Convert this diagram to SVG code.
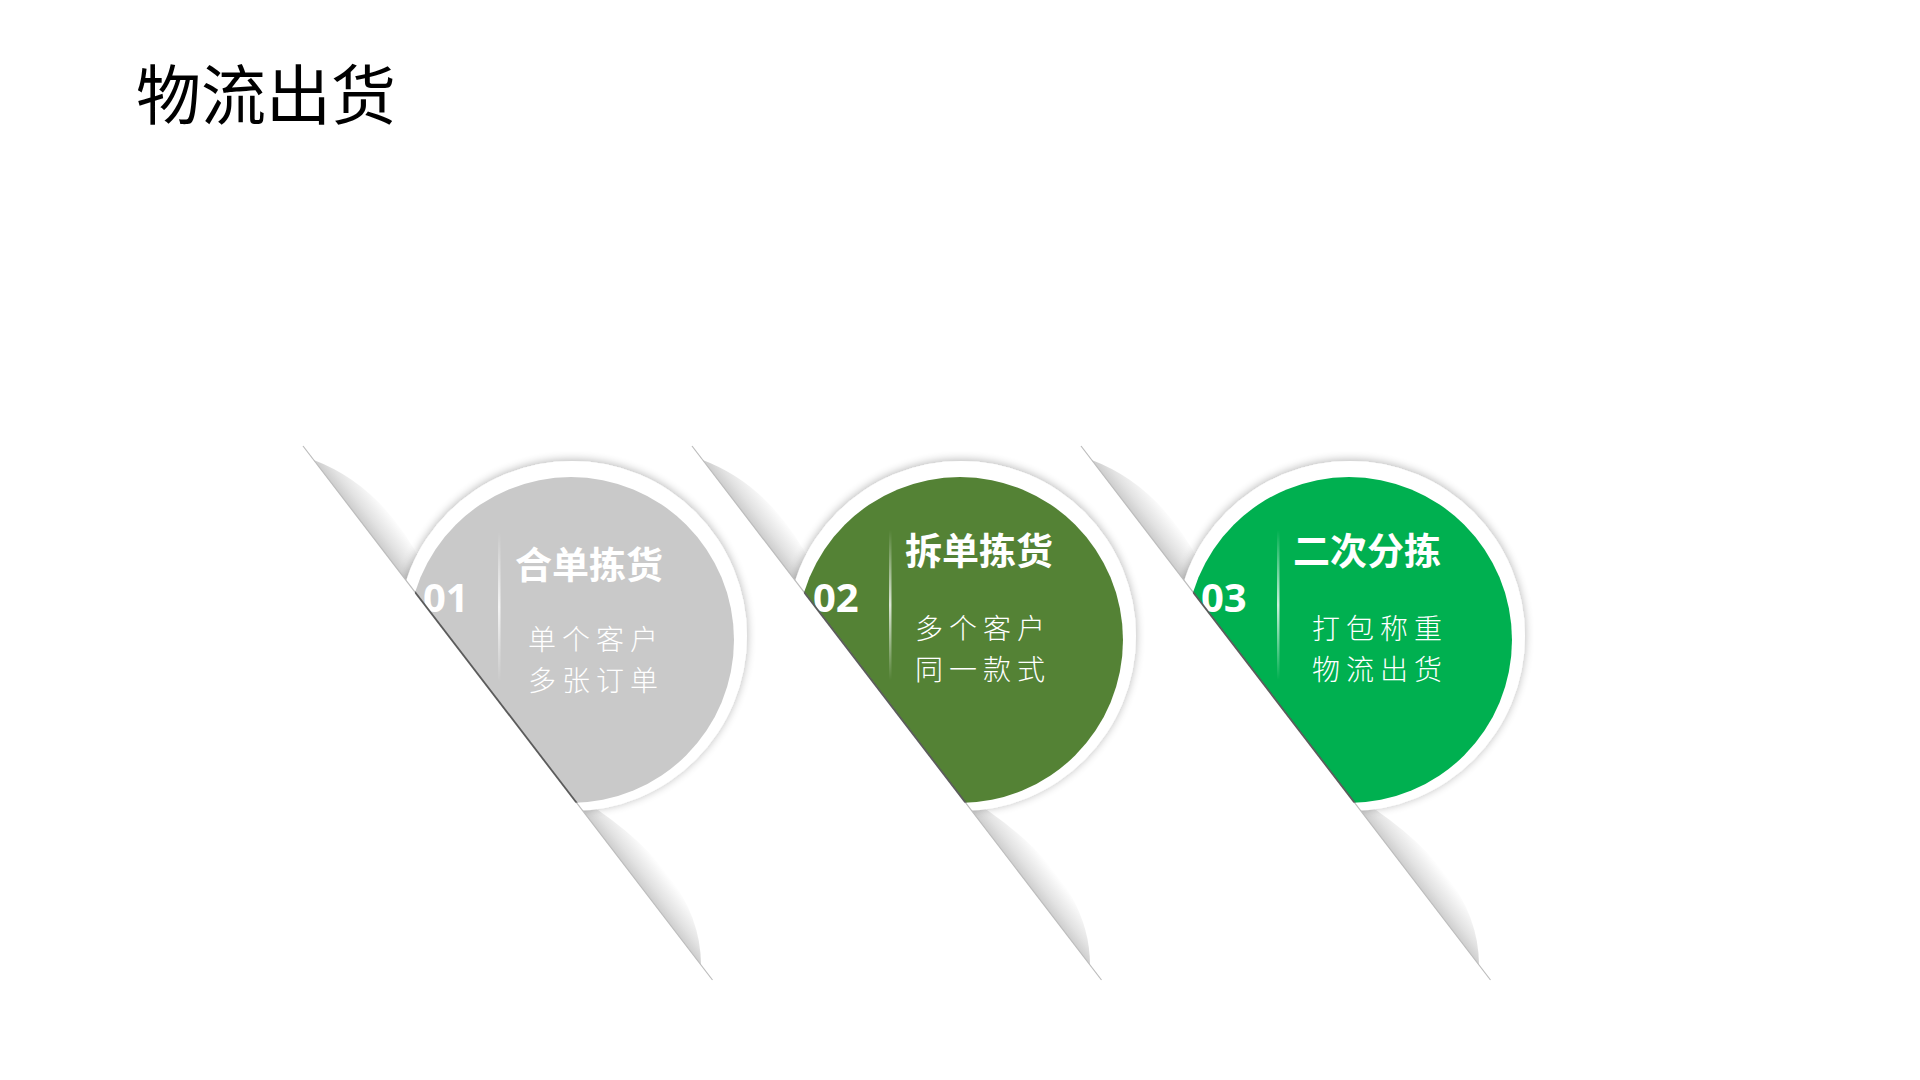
<svg xmlns="http://www.w3.org/2000/svg" width="1920" height="1080" viewBox="0 0 1920 1080">
  <style>
    .title { font-family: "Noto Sans CJK SC", "Noto Sans", sans-serif; font-size: 65px; fill: #000000; }
    .num { font-family: "Open Sans", "Noto Sans", "Liberation Sans", sans-serif; font-weight: 700; font-size: 40px; fill: #ffffff; }
    .head { font-family: "Noto Sans CJK SC", sans-serif; font-weight: 700; font-size: 37px; fill: #ffffff; }
    .sub { font-family: "Noto Sans CJK SC", sans-serif; font-weight: 300; font-size: 28px; letter-spacing: 6px; fill: #ffffff; }
    .ring { fill: #ffffff; filter: url(#ringShadow); }
    .lens { fill: url(#lensGrad); }
    .edge { stroke: #bcbcbc; stroke-width: 1.2; fill: none; }
    .edgeDark { stroke: #4a4a4a; stroke-width: 1.8; fill: none; opacity: 0.85; }
    .sep { fill: url(#sepGrad); }
  </style>
  <defs>
    <filter id="ringShadow" x="-20%" y="-20%" width="140%" height="140%">
      <feGaussianBlur in="SourceAlpha" stdDeviation="5"/>
      <feOffset dx="0" dy="-1" result="b"/>
      <feComponentTransfer><feFuncA type="linear" slope="0.3"/></feComponentTransfer>
      <feMerge><feMergeNode/><feMergeNode in="SourceGraphic"/></feMerge>
    </filter>
    <linearGradient id="lensGrad" gradientUnits="userSpaceOnUse" x1="303" y1="446" x2="326" y2="428.4">
      <stop offset="0" stop-color="#cdcdcd"/>
      <stop offset="0.35" stop-color="#e2e2e2"/>
      <stop offset="1" stop-color="#ffffff"/>
    </linearGradient>
    <linearGradient id="sepGrad" x1="0" y1="0" x2="0" y2="1">
      <stop offset="0" stop-color="#ffffff" stop-opacity="0"/>
      <stop offset="0.5" stop-color="#ffffff" stop-opacity="0.8"/>
      <stop offset="1" stop-color="#ffffff" stop-opacity="0"/>
    </linearGradient>
    <clipPath id="rightOfLine" clipPathUnits="userSpaceOnUse">
      <polygon points="267.7,400 727.8,1000 1150,1000 1150,400"/>
    </clipPath>
    <clipPath id="discClip" clipPathUnits="userSpaceOnUse">
      <circle cx="571" cy="640" r="163"/>
    </clipPath>
  </defs>

  <rect width="1920" height="1080" fill="#ffffff"/>

  <text id="page-title" class="title" x="136" y="119">物流出货</text>

  <g id="step1">
    <path class="lens" d="M313.7,460 Q411,496.6 451.8,640 Z"/>
    <path class="lens" d="M566.8,790 Q701,869.7 701,965 Z"/>
    <g clip-path="url(#rightOfLine)">
      <circle class="ring" cx="572" cy="636" r="175"/>
      <circle cx="571" cy="640" r="163" fill="#C9C9C9"/>
      <text class="num" x="423" y="612">01</text>
    </g>
    <line class="edge" x1="303" y1="446" x2="712.5" y2="980"/>
    <line class="edgeDark" x1="303" y1="446" x2="712.5" y2="980" clip-path="url(#discClip)"/>
    <rect class="sep" x="498" y="532" width="2.5" height="150"/>
    <text class="head" x="515" y="579">合单拣货</text>
    <text class="sub" x="528" y="650">单个客户</text>
    <text class="sub" x="528" y="691">多张订单</text>
  </g>

  <g id="step2" transform="translate(389,0)">
    <path class="lens" d="M313.7,460 Q411,496.6 451.8,640 Z"/>
    <path class="lens" d="M566.8,790 Q701,869.7 701,965 Z"/>
    <g clip-path="url(#rightOfLine)">
      <circle class="ring" cx="572" cy="636" r="175"/>
      <circle cx="571" cy="640" r="163" fill="#548235"/>
      <text class="num" x="424" y="612">02</text>
    </g>
    <line class="edge" x1="303" y1="446" x2="712.5" y2="980"/>
    <line class="edgeDark" x1="303" y1="446" x2="712.5" y2="980" clip-path="url(#discClip)"/>
    <rect class="sep" x="500" y="530" width="2.5" height="150"/>
    <text class="head" x="516" y="565">拆单拣货</text>
    <text class="sub" x="526" y="639">多个客户</text>
    <text class="sub" x="526" y="680">同一款式</text>
  </g>

  <g id="step3" transform="translate(778,0)">
    <path class="lens" d="M313.7,460 Q411,496.6 451.8,640 Z"/>
    <path class="lens" d="M566.8,790 Q701,869.7 701,965 Z"/>
    <g clip-path="url(#rightOfLine)">
      <circle class="ring" cx="572" cy="636" r="175"/>
      <circle cx="571" cy="640" r="163" fill="#00B050"/>
      <text class="num" x="423" y="612">03</text>
    </g>
    <line class="edge" x1="303" y1="446" x2="712.5" y2="980"/>
    <line class="edgeDark" x1="303" y1="446" x2="712.5" y2="980" clip-path="url(#discClip)"/>
    <rect class="sep" x="499" y="530" width="2.5" height="150"/>
    <text class="head" x="515" y="565">二次分拣</text>
    <text class="sub" x="534" y="639">打包称重</text>
    <text class="sub" x="534" y="680">物流出货</text>
  </g>

  <g id="connectors"/>
</svg>
